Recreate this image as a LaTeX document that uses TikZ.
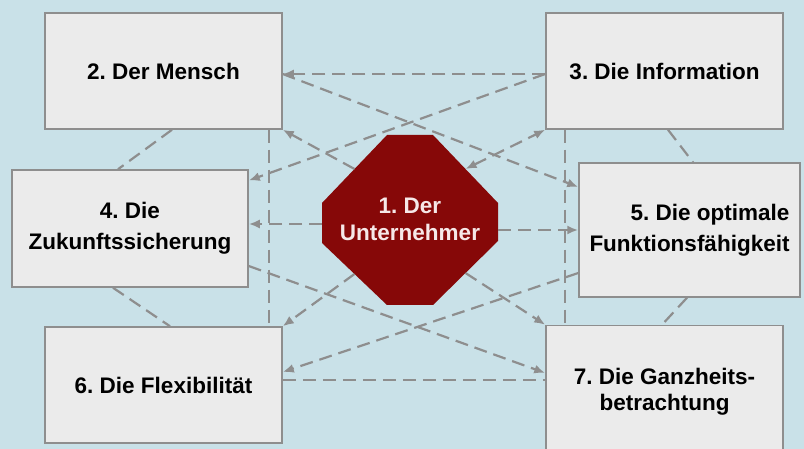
\documentclass[tikz,border=0pt]{standalone}
\usepackage{fontspec}
\setmainfont{Liberation Sans}
\frenchspacing
\usetikzlibrary{calc,arrows.meta}
\definecolor{bgblue}{HTML}{C9E1E8}
\definecolor{boxgray}{HTML}{EBEBEB}
\definecolor{linegray}{HTML}{8E8E8E}
\definecolor{octred}{HTML}{860808}
\definecolor{octtext}{HTML}{F6E8E8}
\tikzset{
  feld/.style = {shape=rectangle, draw=linegray, fill=boxgray,
                 line width=1.5pt, align=center, inner sep=0pt,
                 font=\bfseries\fontsize{22.5}{28}\selectfont},
  kern/.style = {align=center, text=octtext, inner sep=0pt,
                 font=\bfseries\fontsize{22.5}{27}\selectfont},
  link/.style = {draw=linegray, line width=2.2pt, dash pattern=on 13pt off 7pt},
  pfeil/.style = {-{Latex[length=11pt,width=9pt]}}
}

\begin{document}
\begin{tikzpicture}[x=1pt, y=-1pt]
  \clip (0,0) rectangle (804,449);
  \fill [bgblue] (0,0) rectangle (804,449);

  % die sechs Felder
  \node [feld, minimum width=237pt, minimum height=116pt] (mensch) at (163.5,71) {2. Der Mensch};
  \node [feld, minimum width=237pt, minimum height=116pt] (info) at (664.5,71) {3. Die Information};
  \node [feld, minimum width=236pt, minimum height=117pt,
         font=\bfseries\fontsize{22.5}{31}\selectfont] (zukunft) at (130,228.5) {4. Die\\Zukunftssicherung};
  \node [feld, minimum width=221pt, minimum height=134pt, align=right,
         font=\bfseries\fontsize{22.5}{31}\selectfont] (funktion) at (689.5,230) {5. Die optimale\\Funktionsfähigkeit};
  \node [feld, minimum width=237pt, minimum height=116pt] (flex) at (163.5,385) {6. Die Flexibilität};
  \node [feld, minimum width=237pt, minimum height=133pt,
         font=\bfseries\fontsize{22.5}{26}\selectfont] (ganz) at (664.5,392) {7. Die Ganzheits-\\betrachtung};

  % Achteck in der Mitte
  \coordinate (u1) at (387,135);
  \coordinate (u2) at (433,135);
  \coordinate (u3) at (498,203);
  \coordinate (u4) at (498,241);
  \coordinate (u5) at (433,305);
  \coordinate (u6) at (387,305);
  \coordinate (u7) at (322,243);
  \coordinate (u8) at (322,203);
  \fill [octred] (u1) -- (u2) -- (u3) -- (u4) -- (u5) -- (u6) -- (u7) -- (u8) -- cycle;
  \node [kern] (untern) at (410,219) {1. Der\\Unternehmer};

  \coordinate (o-ul) at ($(u8)!0.5!(u1)$);
  \coordinate (o-ur) at ($(u2)!0.5!(u3)$);
  \coordinate (o-l)  at (322,224);
  \coordinate (o-r)  at (498,230);
  \coordinate (o-dl) at ($(u7)!0.5!(u6)$);
  \coordinate (o-dr) at ($(u5)!0.5!(u4)$);
  \coordinate (h6)   at ([yshift=5pt]flex.east);

  % Verbindungen mit Pfeil
  \draw [link, pfeil] ([yshift=-3pt]info.west) -- ([yshift=-3pt]mensch.east);
  \draw [link, pfeil] ([yshift=-3pt]mensch.east) -- ([yshift=43pt]funktion.west);
  \draw [link, pfeil] ([yshift=-3pt]info.west) -- ([yshift=48pt]zukunft.east);
  \draw [link, pfeil] (o-ul) -- (mensch.south east);
  \draw [link, {Latex[length=11pt,width=9pt]}-{Latex[length=11pt,width=9pt]}] (o-ur) -- (info.south west);
  \draw [link, pfeil] (o-l) -- (o-l -| zukunft.east);
  \draw [link, pfeil] (o-r) -- (o-r -| funktion.west);
  \draw [link, pfeil] (o-dl) -- (flex.north east);
  \draw [link, pfeil] (o-dr) -- (ganz.north west);
  \draw [link, pfeil] ([yshift=-37.5pt]zukunft.east) -- ([yshift=19pt]ganz.west);
  \draw [link, pfeil] ([yshift=-43pt]funktion.west) -- ([yshift=13pt]flex.east);

  % Verbindungen ohne Pfeil
  \draw [link] (h6) -- (h6 -| ganz.west);
  \draw [link] ([xshift=-14pt]mensch.south east) -- ([xshift=-14pt]flex.north east);
  \draw [link] ([xshift=20pt]info.south west) -- ([xshift=20pt]ganz.north west);
  \draw [link] ([xshift=8.5pt]mensch.south) -- ([xshift=-12pt]zukunft.north);
  \draw [link] ([xshift=-17pt]zukunft.south) -- ([xshift=6.5pt]flex.north);
  \draw [link] ([xshift=3.5pt]info.south) -- ([xshift=3.5pt]funktion.north);
  \draw [link] ([xshift=-2.5pt]funktion.south) -- ([xshift=-2.5pt]ganz.north);
\end{tikzpicture}
\end{document}
